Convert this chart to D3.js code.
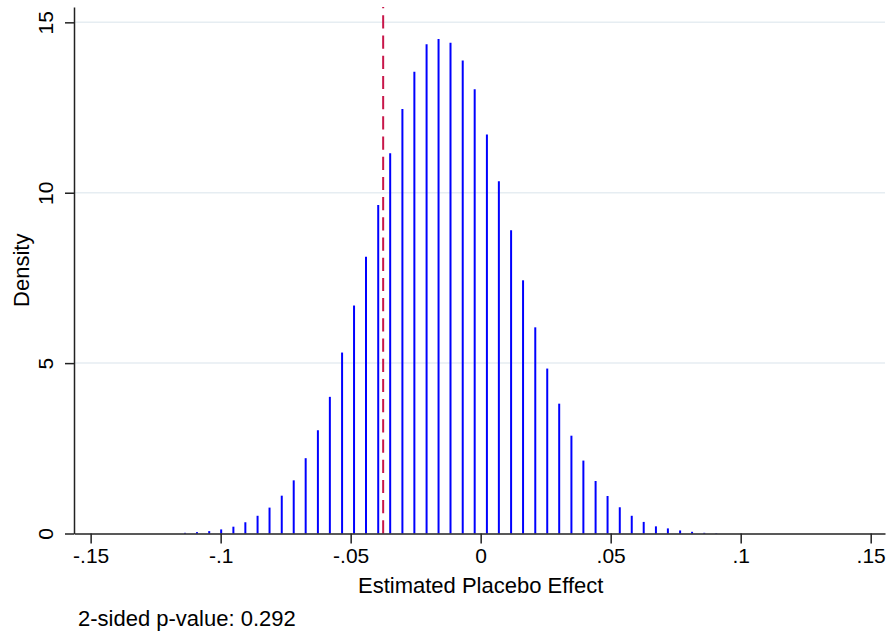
<!DOCTYPE html>
<html>
<head>
<meta charset="utf-8">
<script src="https://cdn.jsdelivr.net/npm/d3@7"></script>
<style>
    body { margin: 0; background: #fff; }
    text { font-family: "Liberation Sans", Arial, Helvetica, sans-serif; fill: #000; }
</style>
</head>
<body>
<div id="chart"></div>
<script>
// bin midpoints of the placebo estimates
var BIN_MID = [
    -0.1137, -0.1091, -0.1044, -0.0998, -0.0951, -0.0905, -0.0858, -0.0812, -0.0765,
    -0.0719, -0.0673, -0.0626, -0.0580, -0.0533, -0.0487, -0.0441, -0.0394, -0.0348,
    -0.0301, -0.0255, -0.0208, -0.0162, -0.0116, -0.0069, -0.0023, 0.0024, 0.0070,
    0.0117, 0.0163, 0.0210, 0.0256, 0.0302, 0.0349, 0.0395, 0.0442, 0.0488,
    0.0535, 0.0581, 0.0627, 0.0674, 0.0720, 0.0767, 0.0813, 0.0860, 0.0906
];
var DENSITY = [
    0.02, 0.04, 0.07, 0.12, 0.20, 0.33, 0.52, 0.76, 1.11,
    1.56, 2.21, 3.03, 4.01, 5.31, 6.69, 8.12, 9.64, 11.16,
    12.46, 13.55, 14.36, 14.51, 14.40, 13.88, 13.04, 11.71, 10.34,
    8.90, 7.43, 6.05, 4.84, 3.81, 2.87, 2.14, 1.54, 1.10,
    0.77, 0.52, 0.34, 0.21, 0.15, 0.09, 0.05, 0.02, 0.01
];
var X_TICKS = [-0.15, -0.1, -0.05, 0, 0.05, 0.1, 0.15];
var Y_TICKS = [0, 5, 10, 15];
var ACTUAL_EFFECT = -0.0375;
var P_VALUE = "0.292";

var W = 889, H = 633;

var svg = d3.select("#chart").append("svg")
    .attr("width", W)
    .attr("height", H);

var x = d3.scaleLinear().domain([-0.1564, 0.1555]).range([74, 885]);
var y = d3.scaleLinear().domain([0, 15.45]).range([533.5, 7]);

// stata style labels: -.05, 0, .1
function fmt(d) {
    if (d === 0) return "0";
    return d3.format(".2~f")(d).replace("\u2212", "-").replace("0.", ".");
}

// grid
svg.append("g")
  .selectAll("line")
    .data(Y_TICKS.filter(function(d) { return d > 0; }))
  .enter().append("line")
    .attr("x1", x.range()[0])
    .attr("x2", x.range()[1])
    .attr("y1", function(d) { return y(d); })
    .attr("y2", function(d) { return y(d); })
    .attr("stroke", "#e6edf2")
    .attr("stroke-width", 1.5);

// spikes
var bins = BIN_MID.map(function(m, i) { return { mid: m, dens: DENSITY[i] }; });
svg.append("g")
  .selectAll("line")
    .data(bins)
  .enter().append("line")
    .attr("x1", function(d) { return x(d.mid); })
    .attr("x2", function(d) { return x(d.mid); })
    .attr("y1", y(0))
    .attr("y2", function(d) { return y(d.dens); })
    .attr("stroke", "#0000ff")
    .attr("stroke-width", 2);

// actual estimate
svg.append("line")
    .attr("x1", x(ACTUAL_EFFECT))
    .attr("x2", x(ACTUAL_EFFECT))
    .attr("y1", y(0))
    .attr("y2", y.range()[1])
    .attr("stroke", "#c8174a")
    .attr("stroke-width", 2)
    .attr("stroke-dasharray", "13.2,7");

// axes
var xAxis = svg.append("g")
    .attr("transform", "translate(0," + y(0) + ")")
    .call(d3.axisBottom(x).tickValues(X_TICKS).tickFormat(fmt).tickSize(10).tickSizeOuter(0).tickPadding(4));
var yAxis = svg.append("g")
    .attr("transform", "translate(" + x.range()[0] + ",0)")
    .call(d3.axisLeft(y).tickValues(Y_TICKS).tickFormat(fmt).tickSize(9).tickSizeOuter(0));

[xAxis, yAxis].forEach(function(g) {
    g.select(".domain").attr("stroke", "#222").attr("stroke-width", 1.5);
    g.selectAll(".tick line").attr("stroke", "#222").attr("stroke-width", 1.5);
    g.selectAll(".tick text").attr("font-size", 21).attr("fill", "#000");
});
xAxis.selectAll(".tick text").attr("dy", "0.72em");
yAxis.selectAll(".tick text")
    .attr("x", null).attr("dy", null)
    .attr("text-anchor", "middle")
    .attr("transform", "translate(-21,0) rotate(-90)");

// titles
svg.append("text")
    .attr("x", (x(-0.15) + x(0.15)) / 2)
    .attr("y", 593)
    .attr("text-anchor", "middle")
    .attr("font-size", 22)
    .text("Estimated Placebo Effect");
svg.append("text")
    .attr("transform", "translate(29," + ((y(0) + y(15.45)) / 2) + ") rotate(-90)")
    .attr("text-anchor", "middle")
    .attr("font-size", 22)
    .text("Density");
svg.append("text")
    .attr("x", 78)
    .attr("y", 626)
    .attr("font-size", 22)
    .text("2-sided p-value: " + P_VALUE);
</script>
</body>
</html>
